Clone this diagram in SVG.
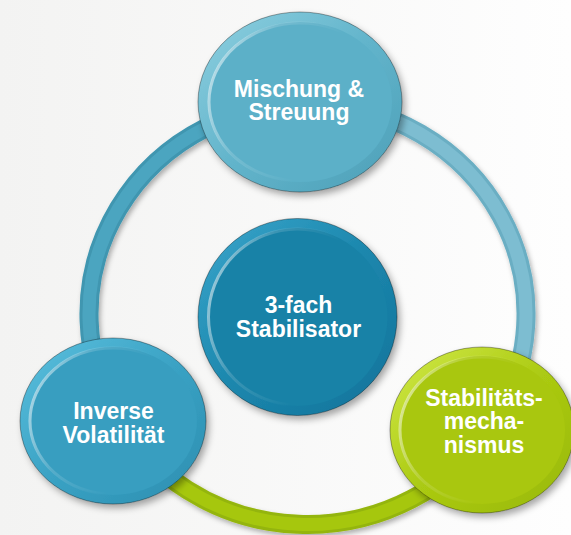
<svg xmlns="http://www.w3.org/2000/svg" width="571" height="535" viewBox="0 0 571 535">
  <defs>
    <linearGradient id="bg" x1="0" y1="0" x2="1" y2="0">
      <stop offset="0" stop-color="#f3f3f2"/>
      <stop offset="1" stop-color="#fefefe"/>
    </linearGradient>
    <filter id="shadow" x="-20%" y="-20%" width="150%" height="150%">
      <feDropShadow dx="3" dy="4" stdDeviation="3.5" flood-color="#000" flood-opacity="0.35"/>
    </filter>
    <filter id="ringShadow" x="-10%" y="-10%" width="120%" height="120%">
      <feDropShadow dx="2" dy="3" stdDeviation="2.5" flood-color="#000" flood-opacity="0.3"/>
    </filter>
    <!-- rim gradients -->
    <linearGradient id="rimTop" x1="0" y1="0" x2="1" y2="1">
      <stop offset="0" stop-color="#8ed0e0"/>
      <stop offset="0.5" stop-color="#62b4cb"/>
      <stop offset="1" stop-color="#4c9fb7"/>
    </linearGradient>
    <linearGradient id="rimLeft" x1="0" y1="0" x2="1" y2="1">
      <stop offset="0" stop-color="#5cc0de"/>
      <stop offset="0.5" stop-color="#3aa2c4"/>
      <stop offset="1" stop-color="#2b8eb0"/>
    </linearGradient>
    <linearGradient id="rimCenter" x1="0" y1="0" x2="1" y2="1">
      <stop offset="0" stop-color="#3aa6cc"/>
      <stop offset="0.5" stop-color="#1c87ad"/>
      <stop offset="1" stop-color="#12729a"/>
    </linearGradient>
    <linearGradient id="rimRight" x1="0" y1="0" x2="1" y2="1">
      <stop offset="0" stop-color="#d2ea4a"/>
      <stop offset="0.5" stop-color="#abca12"/>
      <stop offset="1" stop-color="#98b808"/>
    </linearGradient>
    <!-- highlight on inner edge -->
    <linearGradient id="hl" x1="0" y1="0" x2="1" y2="0.3">
      <stop offset="0" stop-color="#ffffff" stop-opacity="0.7"/>
      <stop offset="0.35" stop-color="#ffffff" stop-opacity="0.15"/>
      <stop offset="0.7" stop-color="#ffffff" stop-opacity="0"/>
    </linearGradient>
    <style>
      .lbl { font-family: "Liberation Sans", Arial, Helvetica, sans-serif; font-weight: bold; font-size: 23px; fill: #ffffff; text-anchor: middle; }
      .edge { fill: none; stroke: #000; stroke-opacity: 0.35; stroke-width: 1; }
      .hl { fill: none; stroke: url(#hl); stroke-width: 3; }
      .ringOut { fill: none; stroke-width: 19; }
      .ringIn { fill: none; stroke-width: 13; }
    </style>
  </defs>

  <rect x="0" y="0" width="571" height="535" fill="url(#bg)"/>

  <g id="connectors" filter="url(#ringShadow)">
    <path class="ringOut" stroke="#3f96b0" d="M 307.5,103.5 A 218.5 210.5 0 0 0 117.7,418.3"/>
    <path class="ringIn" stroke="#4ca5c0" d="M 307.5,103.5 A 218.5 210.5 0 0 0 117.7,418.3"/>
    <path class="ringOut" stroke="#6aaec3" d="M 307.5,103.5 A 218.5 210.5 0 0 1 487.6,433.2"/>
    <path class="ringIn" stroke="#7dbdd1" d="M 307.5,103.5 A 218.5 210.5 0 0 1 487.6,433.2"/>
    <path class="ringOut" stroke="#94b50a" d="M 117.7,418.3 A 218.5 210.5 0 0 0 487.6,433.2"/>
    <path class="ringIn" stroke="#a6c70e" d="M 117.7,418.3 A 218.5 210.5 0 0 0 487.6,433.2"/>
  </g>

  <g id="node-top">
    <ellipse cx="300" cy="102" rx="102" ry="90" fill="url(#rimTop)" filter="url(#shadow)"/>
    <ellipse class="edge" cx="300" cy="102" rx="102" ry="90"/>
    <ellipse cx="300" cy="102" rx="92" ry="80" fill="#5cb0c8"/>
    <ellipse class="hl" cx="300" cy="102" rx="91" ry="79"/>
    <text class="lbl" x="299" y="96.7">Mischung &amp;</text>
    <text class="lbl" x="299" y="120">Streuung</text>
  </g>

  <g id="node-left">
    <ellipse cx="113" cy="421" rx="93" ry="83" fill="url(#rimLeft)" filter="url(#shadow)"/>
    <ellipse class="edge" cx="113" cy="421" rx="93" ry="83"/>
    <ellipse cx="113" cy="421" rx="84" ry="74" fill="#389ec0"/>
    <ellipse class="hl" cx="113" cy="421" rx="83" ry="73"/>
    <text class="lbl" x="113.5" y="419.3">Inverse</text>
    <text class="lbl" x="113.5" y="442.7">Volatilität</text>
  </g>

  <g id="node-center">
    <ellipse cx="297.5" cy="317" rx="99.5" ry="98.5" fill="url(#rimCenter)" filter="url(#shadow)"/>
    <ellipse class="edge" cx="297.5" cy="317" rx="99.5" ry="98.5"/>
    <ellipse cx="297.5" cy="317" rx="90" ry="89" fill="#1882a7"/>
    <ellipse class="hl" cx="297.5" cy="317" rx="89" ry="88"/>
    <text class="lbl" x="298.5" y="312.7">3-fach</text>
    <text class="lbl" x="298.5" y="336.7">Stabilisator</text>
  </g>

  <g id="node-right">
    <ellipse cx="482" cy="430" rx="92" ry="83" fill="url(#rimRight)" filter="url(#shadow)"/>
    <ellipse class="edge" cx="482" cy="430" rx="92" ry="83"/>
    <ellipse cx="482" cy="430" rx="83" ry="74" fill="#a9c70f"/>
    <ellipse class="hl" cx="482" cy="430" rx="82" ry="73"/>
    <text class="lbl" x="484" y="406">Stabilitäts-</text>
    <text class="lbl" x="484" y="429.3">mecha-</text>
    <text class="lbl" x="484" y="453.3">nismus</text>
  </g>
</svg>
